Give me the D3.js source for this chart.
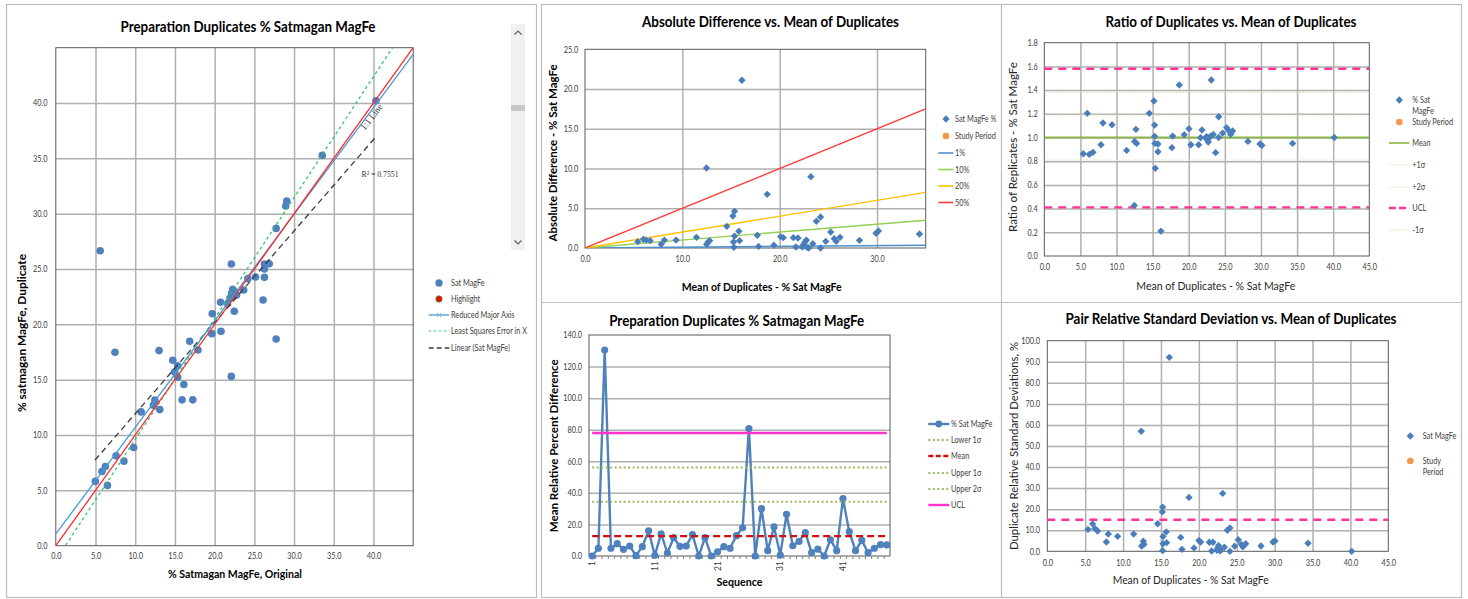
<!DOCTYPE html>
<html>
<head>
<meta charset="utf-8">
<script src="https://cdn.jsdelivr.net/npm/d3@7"></script>
<style>
  body { margin: 0; background: #fff; }
  svg { display: block; }
</style>
</head>
<body>
<script>
// ---------- Data: preparation duplicates, % Satmagan MagFe ----------
const scatterOriginal  = [5.59,22.1,40.3,33.55,28.95,29.08,27.74,26.27,26.87,26.27,26.27,25.14,24.18,23.66,22.28,22.14,22.56,22.26,22.76,21.93,26.1,20.75,21.63,22.47,19.7,19.64,20.8,27.74,16.86,17.9,7.45,13.0,14.73,15.34,14.95,15.34,22.1,16.12,15.9,17.25,12.48,12.3,13.09,10.75,9.8,7.59,8.58,6.24,5.81,4.98,6.5];
const scatterDuplicate = [26.65,25.45,40.2,35.27,30.69,31.14,28.67,25.45,25.48,25.0,24.25,24.28,24.13,23.1,23.16,22.8,22.95,22.5,22.65,22.35,22.2,22.0,21.87,21.18,20.96,19.16,19.37,18.68,18.47,17.69,17.48,17.63,16.76,16.25,15.7,15.22,15.3,14.56,13.18,13.18,13.15,12.7,12.3,12.09,8.87,8.12,7.64,7.16,6.71,5.81,5.45];
const scatterTicks = [0,5,10,15,20,25,30,35,40];
const scatterGrid  = [5,10,15,20,25,30,35,40];
// fitted lines: [intercept, slope]
const oneToOneLine = [0, 1];
const rmaLine      = [1.06, 0.963];
const lseLine      = [-1.32, 1.0925];
const linearLine   = [3.66, 0.826];
const linearRange  = [4.94, 40.3];

const absMean = [5.42,6.0,6.28,6.69,7.82,8.16,9.36,11.45,12.5,12.65,12.8,12.48,14.57,15.19,15.36,15.36,15.26,15.3,15.8,15.88,16.12,17.7,17.83,18.72,19.4,20.1,20.37,21.4,21.67,21.88,22.33,22.46,22.63,22.74,22.8,22.98,23.2,23.4,23.77,24.2,24.2,24.73,25.24,25.6,25.8,26.2,28.2,29.9,30.14,34.36];
const absDiff = [0.8,1.09,1.0,0.92,0.46,1.0,1.0,1.34,0.46,0.75,0.92,10.07,2.73,4.03,4.61,1.5,0.75,0.08,2.1,0.92,21.1,1.6,0.2,6.75,0.34,1.43,1.3,1.3,0.13,1.26,0.13,0.46,0.8,1.0,0.08,0.0,8.98,0.55,3.36,3.9,0.0,0.84,2.0,1.17,0.84,1.34,0.96,1.85,2.14,1.76];
const absXTicks = [0,10,20,30];
const absYTicks = [0,5,10,15,20,25];
const percentLevels = [1, 10, 20, 50];
const percentColors = ['#4a90d0', '#92d050', '#ffc000', '#ff3b3b'];

const ratioMean  = [5.4,5.95,6.23,6.74,7.85,8.12,9.37,11.4,12.46,12.5,12.69,12.78,14.54,15.18,15.27,15.27,15.32,15.37,15.74,15.74,16.15,17.67,17.77,18.69,19.38,20.03,20.3,21.37,21.64,21.83,22.34,22.47,22.6,22.7,22.84,23.03,23.12,23.4,23.72,24.14,24.14,24.69,25.24,25.6,25.8,26.07,28.2,29.86,30.13,34.38,40.15];
const ratioValue = [0.863,1.204,0.858,0.875,0.939,1.122,1.108,0.891,0.427,0.967,1.069,0.95,1.204,1.308,1.105,1.01,0.95,0.74,0.945,0.88,0.21,0.914,1.012,1.443,1.024,1.074,0.939,0.939,0.998,1.063,0.998,1.007,0.979,0.962,0.998,1.012,1.485,1.026,0.872,1.175,1.0,1.037,1.083,1.055,1.026,1.055,0.967,0.945,0.934,0.95,1.0];
const ratioXTicks = [0,5,10,15,20,25,30,35,40,45];
const ratioYTicks = [0,0.2,0.4,0.6,0.8,1.0,1.2,1.4,1.6,1.8];
const ratioAverage = 1.0;
const ratioSigma   = [1.19, 1.38, 0.81];
const ratioUCL     = [1.58, 0.41];

const seqMRPD = [0,4.9,130.5,4.9,7.8,4.2,6.3,0.2,5.9,16.0,0.4,14.1,1.9,11.6,6.1,6.3,13.5,0,11.6,0,2.7,5.9,4.9,12.9,17.9,80.7,0,30.0,3.4,18.4,0.6,26.4,6.5,9.3,14.8,2.1,4.4,0,10.3,3.4,36.3,15.4,3.4,9.9,2.1,4.9,7.2,7.0];
const seqXTicks = [1,11,21,31,41];
const seqYTicks = [0,20,40,60,80,100,120,140];
const seqMeanLevel = 12.6;
const seqUpper1 = 34.4;
const seqUpper2 = 56.0;
const seqUCL = 77.9;

const rsdMean  = [5.37,5.98,6.29,6.64,7.79,8.05,9.28,11.4,12.4,12.45,12.67,12.76,14.56,15.22,15.18,15.27,15.27,15.22,15.7,15.75,16.1,17.6,17.77,18.7,19.36,20.0,20.24,21.38,21.69,21.86,22.39,22.48,22.6,22.75,22.83,23.14,23.36,23.76,24.1,24.1,24.72,25.2,25.6,25.8,26.18,28.2,29.78,30.05,34.4,40.17];
const rsdValue = [10.4,13.0,10.8,9.65,4.43,8.2,7.1,8.2,57.0,2.5,4.75,3.3,13.1,21.0,18.7,7.0,3.6,0.3,9.2,4.1,92.1,6.6,0.95,25.6,1.6,5.1,4.4,4.3,0.15,4.3,0.5,1.6,2.7,0.6,0.2,27.5,1.9,10.0,11.1,0.0,2.4,5.5,3.3,2.1,3.6,2.5,4.4,4.9,3.8,0.0];
const rsdXTicks = [0,5,10,15,20,25,30,35,40,45];
const rsdYTicks = [0,10,20,30,40,50,60,70,80,90,100];
const rsdUCL = 15;

// ---------- Drawing ----------
const FONT = "Lato, 'Open Sans', sans-serif";
const BLUE = '#4f81bd';
const DIAMOND = '#4a7ebb';
const ORANGE = '#f79646';
const PINK = '#ff3399';
const NARROW = 0.86;          // horizontal squeeze for the small labels
const fmt1 = d3.format('.1f');

const svg = d3.select('body').append('svg')
  .attr('width', 1468).attr('height', 599)
  .attr('font-family', FONT);

// squeeze text horizontally to a narrower face
function condense(sel, f = NARROW) {
  sel.each(function () {
    const w = this.getComputedTextLength();
    if (w > 0) d3.select(this).attr('textLength', w * f).attr('lengthAdjust', 'spacingAndGlyphs');
  });
}

// panel frames
svg.append('rect').attr('x', 6.5).attr('y', 4.5).attr('width', 530).attr('height', 593)
  .attr('fill', 'none').attr('stroke', '#bdbdbd').attr('stroke-width', 1.2);
svg.append('rect').attr('x', 541.5).attr('y', 4.5).attr('width', 920).attr('height', 593)
  .attr('fill', 'none').attr('stroke', '#bdbdbd').attr('stroke-width', 1.2);
svg.append('line').attr('x1', 1001.5).attr('x2', 1001.5).attr('y1', 4.5).attr('y2', 597.5)
  .attr('stroke', '#bdbdbd').attr('stroke-width', 1.2);
svg.append('line').attr('x1', 541.5).attr('x2', 1461.5).attr('y1', 302.5).attr('y2', 302.5)
  .attr('stroke', '#bdbdbd').attr('stroke-width', 1.2);

function text(x, y, str, o = {}) {
  const t = svg.append('text').attr('x', x).attr('y', y).text(str)
    .attr('font-size', o.size || 8.5)
    .attr('font-weight', o.weight || 'normal')
    .attr('text-anchor', o.anchor || 'start')
    .attr('fill', o.fill || '#404040');
  if (o.family) t.attr('font-family', o.family);
  if (o.len) t.attr('textLength', o.len).attr('lengthAdjust', 'spacingAndGlyphs');
  else condense(t);
  if (o.rotate) t.attr('transform', `rotate(${o.rotate},${x},${y})`);
  return t;
}
function title(cx, cy, str, len) {
  text(cx, cy + 5.2, str, { size: 15, weight: 'bold', anchor: 'middle', fill: '#000', len });
}
function xTitle(cx, cy, str, len, bold) {
  text(cx, cy + 4.2, str, { size: 12, weight: bold ? 'bold' : 'normal', anchor: 'middle', fill: bold ? '#000' : '#262626', len });
}
function yTitle(cx, cy, str, len, bold) {
  text(cx + 4.2, cy, str, { size: 12, weight: bold ? 'bold' : 'normal', anchor: 'middle', fill: bold ? '#000' : '#262626', len, rotate: -90 });
}

function styleGrid(a) {
  a.select('.domain').remove();
  a.selectAll('line').attr('stroke', '#b0b0b0').attr('stroke-width', 1.5);
}
function styleTicks(a) {
  a.select('.domain').remove();
  a.attr('font-family', FONT).attr('font-size', 8.5);
  a.selectAll('text').attr('fill', '#404040').call(condense);
}

let clipCount = 0;
function chart(c) {
  const x = d3.scaleLinear().domain(c.xDomain).range([c.left, c.right]);
  const y = d3.scaleLinear().domain(c.yDomain).range([c.bottom, c.top]);
  const w = c.right - c.left, h = c.bottom - c.top;
  const id = 'plotclip' + (++clipCount);
  svg.append('clipPath').attr('id', id).append('rect')
    .attr('x', c.left).attr('y', c.top).attr('width', w).attr('height', h);
  const g = svg.append('g');
  if (c.xGrid) g.append('g').attr('transform', `translate(0,${c.bottom})`)
    .call(d3.axisBottom(x).tickValues(c.xGrid).tickSize(-h).tickFormat('')).call(styleGrid);
  if (c.yGrid) g.append('g').attr('transform', `translate(${c.left},0)`)
    .call(d3.axisLeft(y).tickValues(c.yGrid).tickSize(-w).tickFormat('')).call(styleGrid);
  g.append('rect').attr('x', c.left).attr('y', c.top).attr('width', w).attr('height', h)
    .attr('fill', 'none').attr('stroke', '#5a5a5a').attr('stroke-width', 1);
  g.append('g').attr('transform', `translate(${c.left},0)`)
    .call(d3.axisLeft(y).tickValues(c.yTicks).tickFormat(c.yFormat || fmt1).tickSize(0).tickPadding(c.yPad))
    .call(styleTicks);
  if (c.xTicks) g.append('g').attr('transform', `translate(0,${c.bottom})`)
    .call(d3.axisBottom(x).tickValues(c.xTicks).tickFormat(fmt1).tickSize(0).tickPadding(c.xPad || 7.5))
    .call(styleTicks);
  const clipped = svg.append('g').attr('clip-path', `url(#${id})`);
  const marks = svg.append('g');
  return { x, y, clipped, marks, g };
}

const diamondPath = d3.symbol().type(d3.symbolSquare).size(27)();
function diamonds(ch, xs, ys) {
  ch.marks.selectAll(null).data(xs).join('path')
    .attr('d', diamondPath)
    .attr('transform', (d, i) => `translate(${ch.x(d)},${ch.y(ys[i])}) rotate(45)`)
    .attr('fill', DIAMOND);
}
function hline(ch, v, x0, x1, o) {
  const l = ch.clipped.append('line')
    .attr('x1', x0).attr('x2', x1).attr('y1', ch.y(v)).attr('y2', ch.y(v))
    .attr('stroke', o.color).attr('stroke-width', o.width || 1);
  if (o.dash) l.attr('stroke-dasharray', o.dash);
  return l;
}
function legendLine(x0, x1, y, o) {
  const l = svg.append('line').attr('x1', x0).attr('x2', x1).attr('y1', y).attr('y2', y)
    .attr('stroke', o.color).attr('stroke-width', o.width || 1.5);
  if (o.dash) l.attr('stroke-dasharray', o.dash);
}

// ===== 1. Preparation duplicates scatter =====
{
  const ch = chart({ left: 55.8, right: 413.2, top: 47.7, bottom: 545.7,
    xDomain: [0, 45], yDomain: [0, 45], xTicks: scatterTicks, yTicks: scatterTicks,
    xGrid: scatterGrid, yGrid: scatterGrid, yPad: 8.3, xPad: 7.5 });
  ch.marks.selectAll(null).data(scatterOriginal).join('circle')
    .attr('cx', d => ch.x(d)).attr('cy', (d, i) => ch.y(scatterDuplicate[i]))
    .attr('r', 3.8).attr('fill', BLUE);
  const fit = (coef, xr) => d3.line()(xr.map(v => [ch.x(v), ch.y(coef[0] + coef[1] * v)]));
  const fits = svg.append('g').attr('clip-path', 'url(#plotclip1)');
  fits.append('path').attr('d', fit(linearLine, linearRange))
    .attr('stroke', '#3a3a3a').attr('stroke-width', 1.3).attr('stroke-dasharray', '6,4').attr('fill', 'none');
  fits.append('path').attr('d', fit(lseLine, [0, 45]))
    .attr('stroke', '#33c46b').attr('stroke-width', 1.3).attr('stroke-dasharray', '3,3').attr('fill', 'none');
  fits.append('path').attr('d', fit(rmaLine, [0, 45]))
    .attr('stroke', '#4a9ad8').attr('stroke-width', 1.3).attr('fill', 'none');
  fits.append('path').attr('d', fit(oneToOneLine, [0, 45]))
    .attr('stroke', '#ff2a2a').attr('stroke-width', 1.3).attr('fill', 'none');

  text(374, 119, '1:1 Line', { size: 9.5, family: "'Liberation Serif', serif", anchor: 'middle', fill: '#333', rotate: -52, len: 30 });
  text(380, 177, 'R² = 0.7551', { size: 9, family: "'Liberation Serif', serif", anchor: 'middle', fill: '#333', len: 37 });

  title(248, 27, 'Preparation Duplicates % Satmagan MagFe', 255);
  xTitle(235, 573.3, '% Satmagan MagFe,  Original', 134, true);
  yTitle(21.7, 333, '% satmagan MagFe,  Duplicate', 158, true);

  // legend
  svg.append('circle').attr('cx', 439).attr('cy', 283).attr('r', 3.7).attr('fill', BLUE);
  text(451, 286, 'Sat MagFe');
  svg.append('circle').attr('cx', 439).attr('cy', 299).attr('r', 3.2).attr('fill', '#ff0000').attr('stroke', '#33a04a').attr('stroke-width', 0.8);
  text(451, 302, 'Highlight');
  legendLine(428.7, 449.4, 315, { color: '#4a9ad8', width: 1.3 });
  svg.append('path').attr('d', d3.symbol().type(d3.symbolX).size(14)()).attr('transform', 'translate(439,315)')
    .attr('stroke', '#7fb5e3').attr('stroke-width', 1).attr('fill', 'none');
  text(451, 318, 'Reduced Major Axis');
  legendLine(428.7, 449.4, 331, { color: '#33c46b', width: 1.2, dash: '2.5,2.5' });
  text(451, 334, 'Least Squares Error in X');
  legendLine(428.7, 449.4, 348, { color: '#3a3a3a', width: 1.3, dash: '5,3' });
  text(451, 351, 'Linear (Sat MagFe)');

  // scroll bar of the legend box
  svg.append('rect').attr('x', 511).attr('y', 24).attr('width', 14).attr('height', 226).attr('fill', '#f0f0f0');
  svg.append('rect').attr('x', 511).attr('y', 105).attr('width', 14).attr('height', 6).attr('fill', '#c8c8c8');
  svg.append('path').attr('d', 'M514.5,34.5 L518,31 L521.5,34.5').attr('stroke', '#606060').attr('stroke-width', 1.2).attr('fill', 'none');
  svg.append('path').attr('d', 'M514.5,240.5 L518,244 L521.5,240.5').attr('stroke', '#606060').attr('stroke-width', 1.2).attr('fill', 'none');
}

// ===== 2. Absolute difference vs mean =====
{
  const ch = chart({ left: 585, right: 925.7, top: 49.3, bottom: 248,
    xDomain: [0, 35], yDomain: [0, 25], xTicks: absXTicks, yTicks: absYTicks,
    xGrid: [10, 20, 30], yGrid: [5, 10, 15, 20], yPad: 6.7, xPad: 7.5 });
  percentLevels.forEach((p, k) => {
    ch.clipped.append('path')
      .attr('d', d3.line()([[ch.x(0), ch.y(0)], [ch.x(35), ch.y(35 * p / 100)]]))
      .attr('stroke', percentColors[k]).attr('stroke-width', 1.4).attr('fill', 'none');
  });
  diamonds(ch, absMean, absDiff);

  title(770.5, 22, 'Absolute Difference vs. Mean of Duplicates', 257);
  xTitle(761.7, 287, 'Mean of Duplicates  - % Sat MagFe', 160, true);
  yTitle(553, 153, 'Absolute Difference - % Sat MagFe', 177, true);

  svg.append('path').attr('d', diamondPath).attr('transform', 'translate(946,119) rotate(45)').attr('fill', DIAMOND);
  text(955, 122, 'Sat MagFe %');
  svg.append('circle').attr('cx', 946).attr('cy', 136).attr('r', 3.3).attr('fill', ORANGE);
  text(955, 139, 'Study Period');
  percentLevels.forEach((p, k) => {
    const yy = 153 + k * 16.5;
    legendLine(938.3, 953.3, yy, { color: percentColors[k], width: 1.6 });
    text(955, yy + 3, p + '%');
  });
}

// ===== 3. Ratio of duplicates vs mean =====
{
  const ch = chart({ left: 1044.3, right: 1369.3, top: 42.7, bottom: 256,
    xDomain: [0, 45], yDomain: [0, 1.8], xTicks: ratioXTicks, yTicks: ratioYTicks,
    xGrid: [5, 10, 15, 20, 25, 30, 35, 40], yGrid: [0.2, 0.4, 0.6, 0.8, 1.0, 1.2, 1.4, 1.6],
    yPad: 6.6, xPad: 8.3 });
  const x0 = 1044.3, x1 = 1369.3;
  ratioSigma.forEach(v => hline(ch, v, x0, x1, { color: '#d2dfb4', width: 1, dash: '1.5,1.5' }));
  hline(ch, ratioAverage, x0, x1, { color: '#8db54a', width: 2 });
  ratioUCL.forEach(v => hline(ch, v, x0, x1, { color: PINK, width: 2.4, dash: '8,6' }));
  diamonds(ch, ratioMean, ratioValue);

  title(1231, 22, 'Ratio of Duplicates vs. Mean of Duplicates', 251);
  xTitle(1215.8, 286, 'Mean of Duplicates  -  % Sat MagFe', 159, false);
  yTitle(1013, 147, 'Ratio of Replicates -  % Sat MagFe', 170, false);

  svg.append('path').attr('d', diamondPath).attr('transform', 'translate(1399.3,100) rotate(45)').attr('fill', DIAMOND);
  text(1412.3, 103, '% Sat');
  text(1412.3, 114, 'MagFe');
  svg.append('circle').attr('cx', 1399.3).attr('cy', 122).attr('r', 3.3).attr('fill', ORANGE);
  text(1412.3, 125, 'Study Period');
  legendLine(1389, 1409.3, 143, { color: '#8db54a', width: 1.6 });
  text(1412.3, 146, 'Mean');
  legendLine(1389, 1409.3, 165, { color: '#d2dfb4', width: 1, dash: '1.5,1.5' });
  text(1412.3, 168, '+1σ');
  legendLine(1389, 1409.3, 187, { color: '#d2dfb4', width: 1, dash: '1.5,1.5' });
  text(1412.3, 190, '+2σ');
  legendLine(1389, 1409.3, 208, { color: PINK, width: 2.4, dash: '7,3' });
  text(1412.3, 211, 'UCL');
  legendLine(1389, 1409.3, 230, { color: '#d2dfb4', width: 1, dash: '1.5,1.5' });
  text(1412.3, 233, '-1σ');
}

// ===== 4. Mean relative percent difference by sequence =====
{
  const ch = chart({ left: 589, right: 890, top: 335, bottom: 556,
    xDomain: [0.5, 48.5], yDomain: [0, 140], yTicks: seqYTicks,
    yGrid: [20, 40, 60, 80, 100, 120], yPad: 7 });
  // category axis
  const xa = ch.g.append('g').attr('transform', 'translate(0,556)')
    .call(d3.axisBottom(ch.x).tickValues(seqXTicks).tickFormat(d3.format('d')).tickSize(0));
  xa.select('.domain').remove();
  xa.attr('font-family', FONT).attr('font-size', 8.5);
  xa.selectAll('text').attr('fill', '#404040').attr('y', 0).attr('x', -5).attr('dy', '0.32em')
    .attr('transform', 'rotate(-90)').attr('text-anchor', 'end');
  const seqIdx = seqMRPD.map((d, i) => i + 1);
  ch.g.append('g').attr('transform', 'translate(0,556)')
    .call(d3.axisBottom(ch.x).tickValues(seqIdx.map(i => i + 0.5).slice(0, -1)).tickSize(3).tickFormat(''))
    .call(a => { a.select('.domain').remove(); a.selectAll('line').attr('stroke', '#7f7f7f'); });

  ch.marks.append('path')
    .attr('d', d3.line()(seqMRPD.map((d, i) => [ch.x(i + 1), ch.y(d)])))
    .attr('stroke', BLUE).attr('stroke-width', 2.4).attr('fill', 'none').attr('stroke-linejoin', 'round');
  ch.marks.selectAll(null).data(seqMRPD).join('circle')
    .attr('cx', (d, i) => ch.x(i + 1)).attr('cy', d => ch.y(d)).attr('r', 3.6).attr('fill', BLUE);

  const lx0 = ch.x(1), lx1 = ch.x(48);
  const lines = svg.append('g');
  const ln = (v, o) => {
    const l = lines.append('line').attr('x1', lx0).attr('x2', lx1).attr('y1', ch.y(v)).attr('y2', ch.y(v))
      .attr('stroke', o.color).attr('stroke-width', o.width);
    if (o.dash) l.attr('stroke-dasharray', o.dash);
  };
  ln(seqMeanLevel, { color: '#d01010', width: 2.4, dash: '7,4' });
  ln(seqUpper1, { color: '#9bbb59', width: 2, dash: '2,2.5' });
  ln(seqUpper2, { color: '#9bbb59', width: 2, dash: '2,2.5' });
  ln(seqUCL, { color: '#ff33cc', width: 2.4 });

  title(736.7, 320.7, 'Preparation Duplicates % Satmagan MagFe', 255);
  xTitle(739.5, 581.7, 'Sequence', 46, true);
  yTitle(554.3, 445.8, 'Mean Relative Percent Difference', 173, true);

  legendLine(928.3, 949.3, 424, { color: BLUE, width: 2.4 });
  svg.append('circle').attr('cx', 938.8).attr('cy', 424).attr('r', 3.4).attr('fill', BLUE);
  text(951, 427, '% Sat MagFe');
  legendLine(928.3, 949.3, 440, { color: '#9bbb59', width: 2, dash: '2,2.5' });
  text(951, 443, 'Lower 1σ');
  legendLine(928.3, 949.3, 456, { color: '#d01010', width: 2.4, dash: '5,2.5' });
  text(951, 459, 'Mean');
  legendLine(928.3, 949.3, 473, { color: '#9bbb59', width: 2, dash: '2,2.5' });
  text(951, 476, 'Upper 1σ');
  legendLine(928.3, 949.3, 489, { color: '#9bbb59', width: 2, dash: '2,2.5' });
  text(951, 492, 'Upper 2σ');
  legendLine(928.3, 949.3, 505, { color: '#ff33cc', width: 2.4 });
  text(951, 508, 'UCL');
}

// ===== 5. Pair relative standard deviation vs mean =====
{
  const ch = chart({ left: 1047.3, right: 1388.3, top: 340.7, bottom: 551.3,
    xDomain: [0, 45], yDomain: [0, 100], xTicks: rsdXTicks, yTicks: rsdYTicks,
    xGrid: [5, 10, 15, 20, 25, 30, 35, 40], yGrid: [10, 20, 30, 40, 50, 60, 70, 80, 90],
    yPad: 7.3, xPad: 8.3 });
  hline(ch, rsdUCL, 1047.3, 1388.3, { color: PINK, width: 2.6, dash: '8,6' });
  diamonds(ch, rsdMean, rsdValue);

  title(1231, 319, 'Pair Relative Standard Deviation vs. Mean of Duplicates', 331);
  xTitle(1190.7, 580, 'Mean of Duplicates  - % Sat MagFe', 156, false);
  yTitle(1014, 446, 'Duplicate Relative Standard Deviations, %', 208, false);

  svg.append('path').attr('d', diamondPath).attr('transform', 'translate(1410.3,436) rotate(45)').attr('fill', DIAMOND);
  text(1422.7, 439, 'Sat MagFe');
  svg.append('circle').attr('cx', 1410.3).attr('cy', 461).attr('r', 3.3).attr('fill', ORANGE);
  text(1422.7, 464, 'Study');
  text(1422.7, 475, 'Period');
}
</script>
</body>
</html>
